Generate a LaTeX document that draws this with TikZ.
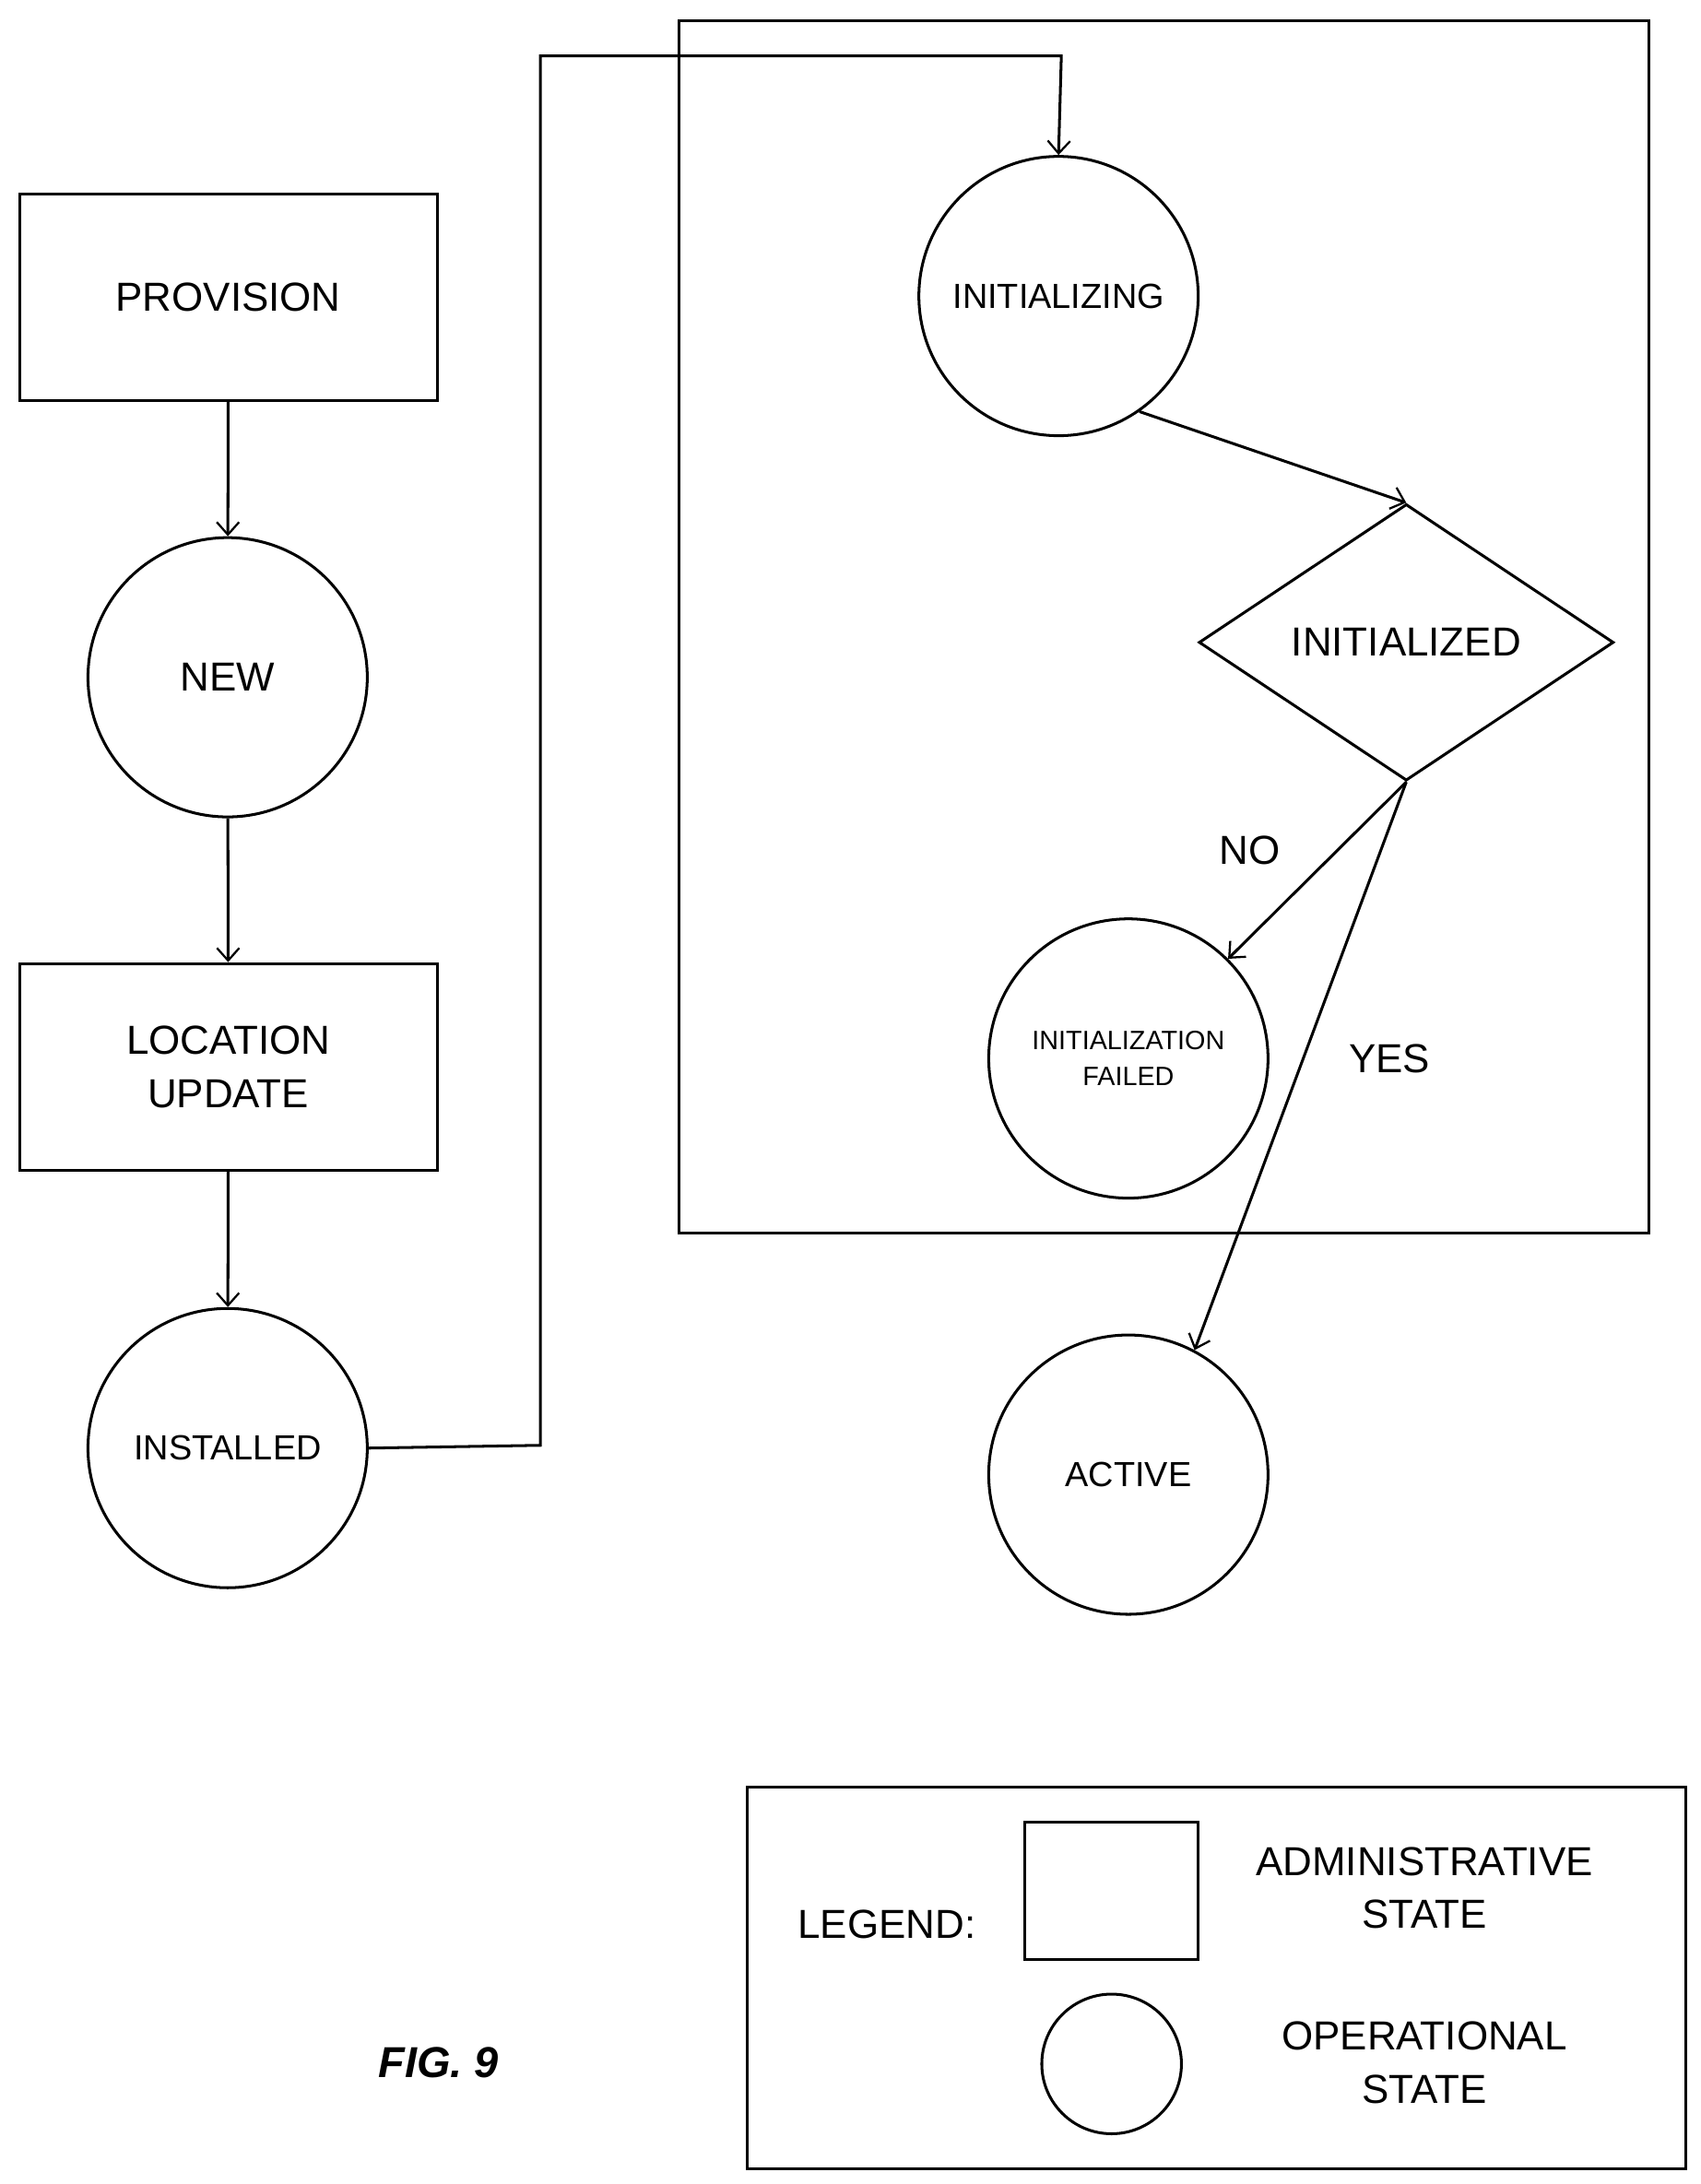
\documentclass[tikz,border=0pt]{standalone}
\usepackage{fontspec}
\setmainfont{Liberation Sans}
\usetikzlibrary{shapes.geometric,arrows.meta}
\begin{document}
\begin{tikzpicture}[x=1pt,y=-1pt,line width=2pt,
  box/.style={draw,rectangle,minimum width=299pt,minimum height=148pt,inner sep=0pt,font=\fontsize{29}{38}\selectfont,align=center},
  st/.style={draw,circle,minimum size=200pt,inner sep=0pt,font=\fontsize{25}{30}\selectfont,align=center},
  arr/.style={-{Straight Barb[length=9pt,width=16pt,line width=1.5pt]}},
  lab/.style={font=\fontsize{29}{38}\selectfont,align=center}]
\useasboundingbox (0,0) rectangle (1218,1564);
\node[box] (prov) at (163.5,213) {PROVISION};
\node[st,font=\fontsize{29}{36}\selectfont] (new) at (163,485) {NEW};
\node[box] (loc) at (163.5,764) {LOCATION\\UPDATE};
\node[st] (inst) at (163,1037) {INSTALLED};
\node[draw,rectangle,minimum width=695pt,minimum height=868pt,inner sep=0pt] (frame) at (833.5,449) {};
\node[st] (init) at (758,212) {INITIALIZING};
\node[draw,diamond,minimum width=297pt,minimum height=198pt,inner sep=0pt,font=\fontsize{29}{36}\selectfont] (dia) at (1007,460) {INITIALIZED};
\node[st,font=\fontsize{19}{26}\selectfont] (fail) at (808,758) {INITIALIZATION\\FAILED};
\node[st] (act) at (808,1056) {ACTIVE};
\node[lab] (no) at (895,609) {NO};
\node[lab] (yes) at (995,758) {YES};
\coordinate (c1) at (387,1035);
\coordinate (c2) at (387,40);
\coordinate (c3) at (760,40);
\draw[arr] (prov) -- (new);
\draw[arr] (new) -- (loc);
\draw[arr] (loc) -- (inst);
\draw[arr] (inst.east) -- (c1) -- (c2) -- (c3) -- (init.north);
\draw[arr] (init.-55) -- (dia.north);
\draw[arr] (dia.south) -- (fail.45);
\draw[arr] (dia.south) -- (act.62);
\node[font=\fontsize{31}{36}\selectfont\bfseries\itshape] (fig) at (314,1477) {FIG. 9};
\node[draw,rectangle,minimum width=672pt,minimum height=273pt,inner sep=0pt] (leg) at (871,1416.5) {};
\node[draw,rectangle,minimum width=124pt,minimum height=98pt,inner sep=0pt] (lrect) at (796,1354) {};
\node[draw,circle,minimum size=100pt,inner sep=0pt] (lcirc) at (796,1478) {};
\node[lab] (legt) at (635,1378) {LEGEND:};
\node[lab] (adm) at (1020,1352) {ADMINISTRATIVE\\STATE};
\node[lab] (op) at (1020,1477) {OPERATIONAL\\STATE};
\end{tikzpicture}
\end{document}
